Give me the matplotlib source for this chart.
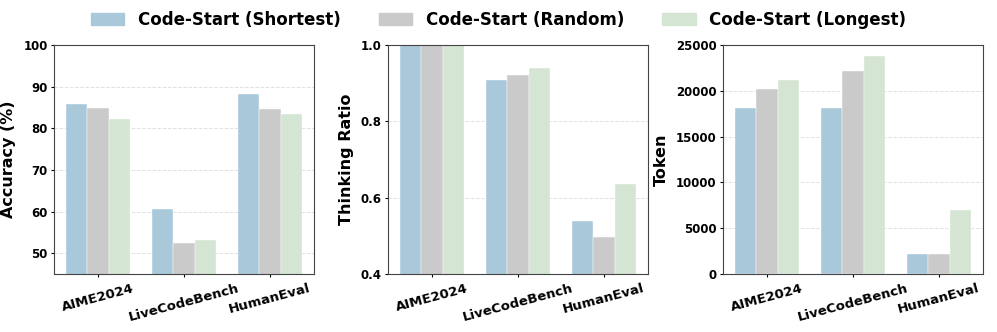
import numpy as np
import matplotlib
matplotlib.use("Agg")
import matplotlib.pyplot as plt

plt.rcParams['font.family'] = 'DejaVu Sans'
plt.rcParams['font.weight'] = 'bold'

benchmarks = ["AIME2024", "LiveCodeBench", "HumanEval"]
methods = ["Code-Start (Shortest)", "Code-Start (Random)", "Code-Start (Longest)"]
colors = ["#a9c8da", "#cacaca", "#d4e5d3"]

accuracy = {
    "Code-Start (Shortest)": [85.8, 60.7, 88.3],
    "Code-Start (Random)": [84.9, 52.4, 84.7],
    "Code-Start (Longest)": [82.3, 53.2, 83.5],
}
thinking_ratio = {
    "Code-Start (Shortest)": [1.0, 0.908, 0.538],
    "Code-Start (Random)": [1.0, 0.922, 0.496],
    "Code-Start (Longest)": [1.0, 0.939, 0.636],
}
tokens = {
    "Code-Start (Shortest)": [18100, 18150, 2220],
    "Code-Start (Random)": [20150, 22150, 2170],
    "Code-Start (Longest)": [21200, 23850, 7000],
}

panels = [
    (accuracy, "Accuracy (%)", (45, 100), [50, 60, 70, 80, 90, 100]),
    (thinking_ratio, "Thinking Ratio", (0.4, 1.0), [0.4, 0.6, 0.8, 1.0]),
    (tokens, "Token", (0, 25000), [0, 5000, 10000, 15000, 20000, 25000]),
]

fig = plt.figure(figsize=(9.97, 3.32), dpi=100)
W, H = 997, 332
boxes = [(54, 314), (388, 648), (723, 983)]
top, bottom = 45, 274

x = np.arange(len(benchmarks))
width = 0.25

for (data, ylabel, ylim, yticks), (l, r) in zip(panels, boxes):
    ax = fig.add_axes([l / W, 1 - bottom / H, (r - l) / W, (bottom - top) / H])
    for i, m in enumerate(methods):
        ax.bar(x + (i - 1) * width, data[m], width, color=colors[i],
               edgecolor="white", linewidth=0.3, label=m, zorder=2)
    ax.set_ylim(*ylim)
    ax.set_yticks(yticks)
    if ylabel == "Thinking Ratio":
        ax.set_yticklabels([f"{t:.1f}" for t in yticks])
    ax.set_xticks(x)
    ax.set_xticklabels(benchmarks, rotation=15, fontsize=9.5, fontweight="bold")
    ax.tick_params(axis="y", labelsize=8.5, length=2.5, pad=2)
    ax.tick_params(axis="x", length=2.5, pad=3)
    ax.set_ylabel(ylabel, fontsize=11.5, fontweight="bold", labelpad=5)
    ax.grid(axis="y", linestyle="--", color="#cccccc", alpha=0.6, linewidth=0.7, zorder=0)
    ax.set_axisbelow(True)
    for s in ax.spines.values():
        s.set_color("#444444")

handles = [plt.Rectangle((0, 0), 1, 1, color=c) for c in colors]
fig.legend(handles, methods, loc="center", bbox_to_anchor=(0.5, 1 - 20 / H), ncol=3,
           frameon=False, prop={"weight": "bold", "size": 12}, columnspacing=2.3,
           handletextpad=0.8)

fig.savefig("out.png", dpi=100)
